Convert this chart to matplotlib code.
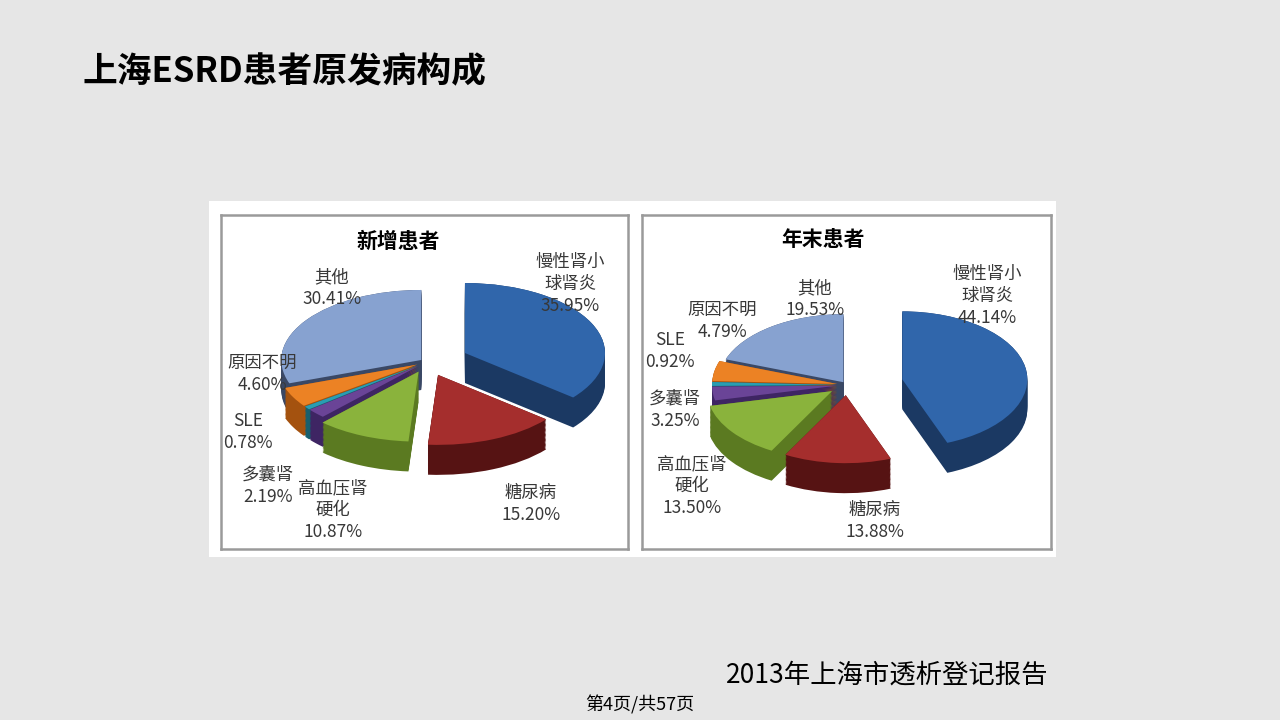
import matplotlib.pyplot as plt
from matplotlib.patches import Rectangle

plt.rcParams['font.family'] = ['Noto Sans CJK SC', 'DejaVu Sans']

# datos de las dos tortas (orden: sentido horario desde las 12)
categorias = ['慢性肾小\n球肾炎', '糖尿病', '高血压肾\n硬化', '多囊肾', 'SLE', '原因不明', '其他']
pct_nuevos = [35.95, 15.20, 10.87, 2.19, 0.78, 4.60, 30.41]
pct_fin_ano = [44.14, 13.88, 13.50, 3.25, 0.92, 4.79, 19.53]
titulos = ['新增患者', '年末患者']

color_sup = ['#3066ab', '#a52e2d', '#8ab33c', '#6a4497', '#2a9db2', '#ec8224', '#87a2d0']
color_lado = ['#1b3963', '#561313', '#5b7a21', '#3e2563', '#17606e', '#a4520f', '#3a4865']

W, H = 1280, 720
fig = plt.figure(figsize=(W / 100, H / 100), dpi=100)
fig.patch.set_facecolor('#e6e6e6')


def px(x, y):
    # paso de pixeles de la imagen a fraccion de figura
    return x / W, 1 - y / H


# panel blanco de la imagen (debajo de los ejes)
fig.patches.append(Rectangle(px(209, 557), (1056 - 209) / W, (557 - 201) / H,
                             transform=fig.transFigure, facecolor='white',
                             edgecolor='none', zorder=-5))

fig.text(*px(82, 72), '上海ESRD患者原发病构成', fontsize=25, fontweight='bold',
         color='black', va='center', ha='left')


def torta(caja, cx, cy, rx, ry, prof, valores, explode, titulo, tit_xy, etiquetas):
    x0, y0, x1, y1 = caja
    l, b = px(x0, y1)
    ax = fig.add_axes([l, b, (x1 - x0) / W, (y1 - y0) / H])
    ax.set_facecolor('white')
    d = prof / ry
    n = 24
    # capas oscuras para simular el costado 3D
    for k in range(n + 1):
        off = -d + d * k / n
        ax.pie(valores, explode=explode, colors=color_lado, startangle=90,
               counterclock=False, center=(0, off), radius=1,
               wedgeprops=dict(linewidth=0))
    ax.pie(valores, explode=explode, colors=color_sup, startangle=90,
           counterclock=False, center=(0, 0), radius=1,
           wedgeprops=dict(linewidth=0))
    ax.set_aspect('auto')
    ax.set_xlim((x0 - cx) / rx, (x1 - cx) / rx)
    ax.set_ylim((cy - y1) / ry, (cy - y0) / ry)
    ax.set_xticks([])
    ax.set_yticks([])
    ax.set_frame_on(True)
    for s in ax.spines.values():
        s.set_color('#9a9a9a')
        s.set_linewidth(1.8)
    fig.text(*px(*tit_xy), titulo, fontsize=15, fontweight='bold',
             ha='center', va='center', color='black')
    for cat, v, (lx, ly) in zip(categorias, valores, etiquetas):
        fig.text(*px(lx, ly), f'{cat}\n{v:.2f}%', fontsize=12.5, ha='center',
                 va='center', color='#383838', linespacing=1.3)


torta((221, 215, 628, 549), 427, 362, 140, 70, 30, pct_nuevos,
      [0.3, 0.2, 0.15, 0.08, 0.08, 0.08, 0.05], titulos[0], (398, 242),
      [(570, 284), (531, 504), (333, 510), (268, 486), (248, 432),
       (262, 374), (332, 288)])

torta((642, 215, 1051, 549), 847, 385, 125, 68, 30, pct_fin_ano,
      [0.45, 0.15, 0.15, 0.08, 0.08, 0.08, 0.05], titulos[1], (823, 240),
      [(987, 296), (875, 521), (692, 486), (675, 410), (670, 351),
       (722, 321), (815, 299)])

fig.text(*px(726, 675), '2013年上海市透析登记报告', fontsize=19, ha='left',
         va='center', color='black')
fig.text(*px(640, 705), '第4页/共57页', fontsize=13, ha='center',
         va='center', color='black')

fig.savefig('out.png', dpi=100, facecolor=fig.get_facecolor())
